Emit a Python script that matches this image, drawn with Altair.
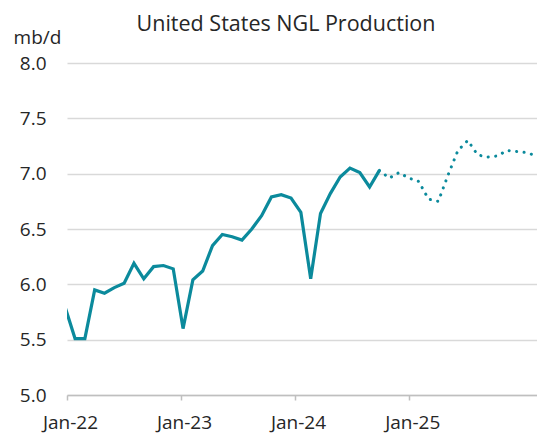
import altair as alt
import pandas as pd

# Monthly index: -1 = Dec-21, 0 = Jan-22 ... 47 = Dec-25
months = ["Dec-21",
          "Jan-22", "Feb-22", "Mar-22", "Apr-22", "May-22", "Jun-22", "Jul-22", "Aug-22", "Sep-22", "Oct-22", "Nov-22", "Dec-22",
          "Jan-23", "Feb-23", "Mar-23", "Apr-23", "May-23", "Jun-23", "Jul-23", "Aug-23", "Sep-23", "Oct-23", "Nov-23", "Dec-23",
          "Jan-24", "Feb-24", "Mar-24", "Apr-24", "May-24", "Jun-24", "Jul-24", "Aug-24", "Sep-24", "Oct-24", "Nov-24", "Dec-24",
          "Jan-25", "Feb-25", "Mar-25", "Apr-25", "May-25", "Jun-25", "Jul-25", "Aug-25", "Sep-25", "Oct-25", "Nov-25", "Dec-25"]

# Historical (solid) Dec-21 .. Aug-24
actual = [5.79,
          5.51, 5.51, 5.95, 5.92, 5.97, 6.01, 6.19, 6.05, 6.16, 6.17, 6.14, 5.60,
          6.04, 6.12, 6.35, 6.45, 6.43, 6.40, 6.50, 6.62, 6.79, 6.81, 6.78, 6.65,
          6.05, 6.64, 6.82, 6.97, 7.05, 7.01, 6.88, 7.03]

# Forecast (dotted) Aug-24 .. Dec-25
forecast = [7.03, 6.96, 7.01, 6.96, 6.93,
            6.77, 6.75, 6.99, 7.21, 7.30, 7.17, 7.15, 7.16, 7.21, 7.20, 7.19, 7.16]

tick_idx = [-0.82, 10.79, 22.40, 34.04]
tick_labels = ["Jan-22", "Jan-23", "Jan-24", "Jan-25"]
y_ticks = [5.0, 5.5, 6.0, 6.5, 7.0, 7.5, 8.0]

idx_all = list(range(-1, len(months) - 1))
n_act = len(actual)
rows = []
for i in range(n_act):
    rows.append({"idx": idx_all[i], "month": months[i], "value": actual[i], "series": "actual"})
start_f = n_act - 1
for j, v in enumerate(forecast):
    k = start_f + j
    rows.append({"idx": idx_all[k], "month": months[k], "value": v, "series": "forecast"})
df = pd.DataFrame(rows)

FONT = "Open Sans"
COLOR = "#0b8a9c"

label_expr = " : ".join(
    [f"datum.value < {((tick_idx[i] + tick_idx[i + 1]) / 2):.2f} ? '{tick_labels[i]}'" for i in range(len(tick_idx) - 1)]
) + f" : '{tick_labels[-1]}'"

x = alt.X("idx:Q",
          scale=alt.Scale(domain=[-0.82, 47.05], nice=False, zero=False),
          axis=alt.Axis(values=tick_idx, labelExpr=label_expr, title=None, grid=False,
                        domainColor="#bfbfbf", domainWidth=1.5, tickColor="#bfbfbf", tickWidth=1.5,
                        tickSize=5, labelPadding=13, labelOffset=3, labelFontSize=19, labelFont=FONT,
                        labelColor="#262626", labelAlign="center", labelBound=False, labelOverlap=False))
y = alt.Y("value:Q",
          scale=alt.Scale(domain=[5, 8], nice=False, zero=False),
          axis=alt.Axis(values=y_ticks, format=".1f", title="mb/d", titleAngle=0, titleX=-30, titleY=-20,
                        titleAlign="center", titleBaseline="alphabetic", titleFont=FONT, titleFontSize=19,
                        titleFontWeight="normal", titleColor="#262626",
                        domain=False, ticks=False, tickSize=0, labelPadding=21, labelFontSize=19,
                        labelFont=FONT, labelColor="#262626", gridColor="#d9d9d9", gridWidth=1.3))

solid = alt.Chart(df).transform_filter(alt.datum.series == "actual").mark_line(
    color=COLOR, strokeWidth=3.2, clip=True, strokeJoin="miter").encode(x=x, y=y, order="idx:Q")
dotted = alt.Chart(df).transform_filter(alt.datum.series == "forecast").mark_line(
    color=COLOR, strokeWidth=3, strokeDash=[0.1, 7.4], strokeCap="round", clip=True).encode(x=x, y=y, order="idx:Q")

chart = alt.layer(solid, dotted).properties(
    width=470, height=332,
    padding={"left": 59, "top": 55, "right": 0, "bottom": 38},
    autosize=alt.AutoSizeParams(type="none"),
    title=alt.Title("United States NGL Production", font=FONT, fontSize=21.5, fontWeight="normal",
                    color="#262626", anchor="middle", dx=-16, offset=-24, baseline="alphabetic"),
).configure_view(stroke=None)

chart.save("out.html", embed_options={"renderer": "svg", "actions": False})
